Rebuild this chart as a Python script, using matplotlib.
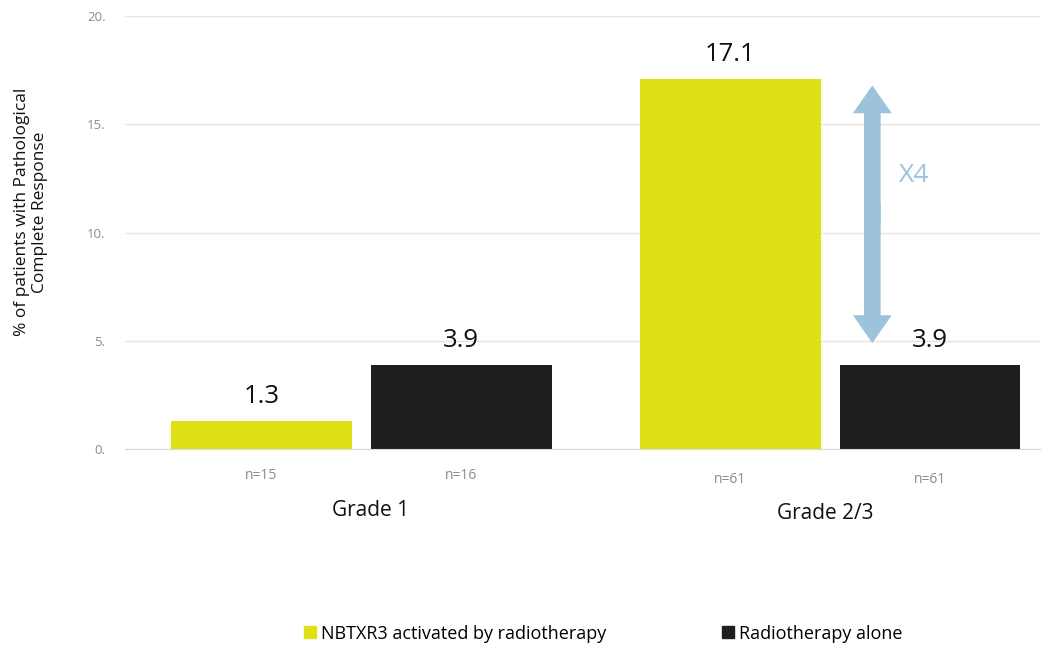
import numpy as np
import matplotlib.pyplot as plt
from matplotlib.patches import Patch

plt.rcParams['font.family'] = ['Open Sans', 'DejaVu Sans']

# data
grades = ["Grade 1", "Grade 2/3"]
series = ["NBTXR3 activated by radiotherapy", "Radiotherapy alone"]
nbtxr3 = [1.3, 17.1]
rt_alone = [3.9, 3.9]
n_nbtxr3 = ["n=15", "n=61"]
n_rt = ["n=16", "n=61"]
yticks = [0, 5, 10, 15, 20]

YELLOW = "#E0E016"
BLACK = "#1E1E1E"
ARROW = "#9DC3DC"
GRAY = "#8C8C8C"

fig = plt.figure(figsize=(10.55, 6.48), dpi=100)
ax = fig.add_axes([0.1185, 0.307, 0.867, 0.668])

x = np.arange(len(grades))
w = 0.386
off = 0.213
b1 = ax.bar(x - off, nbtxr3, w, color=YELLOW, label=series[0])
b2 = ax.bar(x + off, rt_alone, w, color=BLACK, label=series[1])

for bars, vals in ((b1, nbtxr3), (b2, rt_alone)):
    for b, v in zip(bars, vals):
        ax.text(b.get_x() + b.get_width() / 2, v + 0.55, f"{v:.1f}",
                ha="center", va="bottom", fontsize=18.5, color="#111111")

# n labels and group labels
for i in range(len(grades)):
    dy = 0.0 if i == 0 else 0.22
    ax.text(x[i] - off, -1.2 - dy, n_nbtxr3[i], ha="center", va="center",
            fontsize=10, color=GRAY, clip_on=False)
    ax.text(x[i] + off, -1.2 - dy, n_rt[i], ha="center", va="center",
            fontsize=10, color=GRAY, clip_on=False)
    ax.text(x[i] + 0.02 - 0.03 * i, -2.82 - 0.14 * i, grades[i], ha="center",
            va="center", fontsize=15, color="#111111", clip_on=False)

# x4 double arrow: two filled arrows from the middle (overlapping a bit)
ax_x = x[1] + 0.09
mid = (4.9 + 16.8) / 2
for tip, start in ((16.8, mid - 0.5), (4.9, mid + 0.5)):
    ax.annotate("", xy=(ax_x, tip), xytext=(ax_x, start),
                arrowprops=dict(arrowstyle="simple,head_width=1.4,tail_width=0.6,head_length=1.0",
                                color=ARROW, lw=0, mutation_scale=20,
                                shrinkA=0, shrinkB=0))
ax.text(x[1] + 0.18, 12.66, "X4", color=ARROW, fontsize=19,
        ha="center", va="center")

ax.set_xlim(-0.504, 1.447)
ax.set_ylim(0, 20)
ax.set_yticks(yticks)
ax.set_yticklabels([f"{t}." for t in yticks], color=GRAY, fontsize=9.5)
ax.set_xticks([])
ax.tick_params(axis="y", length=0, pad=14)
ax.grid(axis="y", color="#E4E4E4", lw=1)
ax.set_axisbelow(True)
for s in ("top", "right", "left"):
    ax.spines[s].set_visible(False)
ax.spines["bottom"].set_color("#D9D9D9")
ax.set_ylabel("% of patients with Pathological\nComplete Response",
              fontsize=12.5, color="#111111")
ax.yaxis.set_label_coords(-0.084, 0.547)

handles = [Patch(color=YELLOW), Patch(color=BLACK)]
fig.legend(handles, series, loc="center", bbox_to_anchor=(0.572, 0.022),
           ncol=2, frameon=False, fontsize=13, handlelength=0.65,
           handleheight=0.65, handletextpad=0.3, columnspacing=6.4)

plt.savefig("out.png", dpi=100)
plt.close()
